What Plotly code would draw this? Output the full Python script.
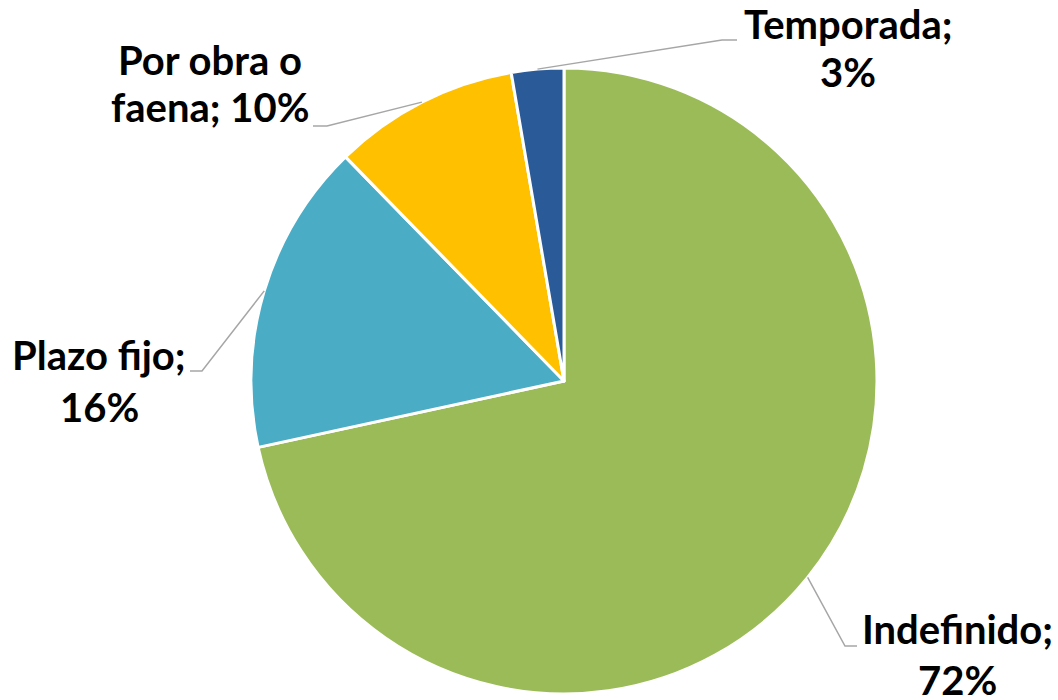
import math
import plotly.graph_objects as go

# ---- data ----
categories = ["Indefinido", "Plazo fijo", "Por obra o faena", "Temporada"]
values = [71.6, 16.1, 9.6, 2.7]
colors = ["#9BBB59", "#4BACC6", "#FFC000", "#2A5B98"]

# ---- layout settings ----
W, H = 1058, 700
CX, CY, R = 564, 381, 313          # pie centre / radius in pixels
FONT = "Lato"
FSIZE = 40
LEADER = "#A6A6A6"
YADJ = -3                          # text box middle vs cap middle

# per-label placement: words on first line, line centres, leader elbow/end (pixels)
label_layout = {
    "Indefinido":       dict(words1=1, cx=957, y1=632, y2=683, elbow=(845, 646), end=(857, 646)),
    "Plazo fijo":       dict(words1=2, cx=99,  y1=358, y2=410, elbow=(202, 371), end=(190, 371)),
    "Por obra o faena": dict(words1=3, cx=210, y1=63,  y2=110, elbow=(327, 126), end=(313, 126)),
    "Temporada":        dict(words1=1, cx=848, y1=27,  y2=75,  elbow=(722, 40),  end=(737, 40)),
}


def px(x):
    return x / W


def py(y):
    return 1 - y / H


fig = go.Figure(go.Pie(
    labels=categories,
    values=values,
    sort=False,
    direction="clockwise",
    rotation=0,
    marker=dict(colors=colors, line=dict(color="white", width=3)),
    textinfo="none",
    hoverinfo="label+percent",
    domain=dict(x=[px(CX - R), px(CX + R)], y=[py(CY + R), py(CY - R)]),
    showlegend=False,
))

total = sum(values)
cum = 0.0
annotations = []
shapes = []
for cat, v in zip(categories, values):
    mid = (cum + v / 2) / total * 2 * math.pi
    cum += v
    pct = round(v / total * 100)
    cfg = label_layout[cat]
    words = f"{cat}; {pct}%".split(" ")
    line1 = " ".join(words[:cfg["words1"]])
    line2 = " ".join(words[cfg["words1"]:])
    for txt, yy in ((line1, cfg["y1"]), (line2, cfg["y2"])):
        annotations.append(dict(
            x=px(cfg["cx"]), y=py(yy + YADJ), xref="paper", yref="paper",
            text=f"<b>{txt}</b>", showarrow=False,
            xanchor="center", yanchor="middle",
            font=dict(family=FONT, size=FSIZE, color="black"),
        ))
    sx = CX + R * math.sin(mid)
    sy = CY - R * math.cos(mid)
    ex, ey = cfg["elbow"]
    nx, ny = cfg["end"]
    path = (f"M {px(sx)} {py(sy)} L {px(ex)} {py(ey)} L {px(nx)} {py(ny)}")
    shapes.append(dict(type="path", path=path, xref="paper", yref="paper",
                       line=dict(color=LEADER, width=1.5)))

fig.update_layout(
    width=W, height=H,
    margin=dict(l=0, r=0, t=0, b=0),
    paper_bgcolor="white",
    plot_bgcolor="white",
    annotations=annotations,
    shapes=shapes,
)

fig.write_html(
    "out.html",
    config={"displayModeBar": False},
    post_script="document.body.style.margin='0';document.body.style.overflow='hidden';",
)
